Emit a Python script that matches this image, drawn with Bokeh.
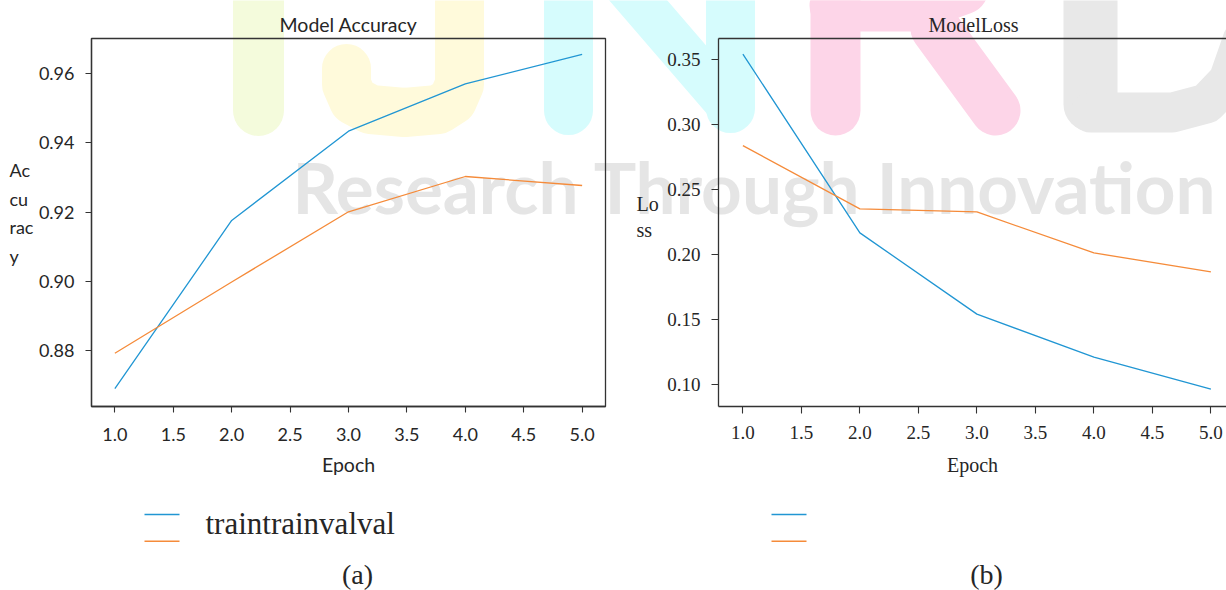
from bokeh.plotting import figure
from bokeh.layouts import row, column
from bokeh.models import (Label, LinearAxis, FixedTicker, NumeralTickFormatter, Range1d)
from bokeh.embed import file_html
from bokeh.resources import INLINE

# ---------------- data ----------------
epochs = [1, 2, 3, 4, 5]
acc_train = [0.8690, 0.9176, 0.9434, 0.9571, 0.9656]
acc_val = [0.8792, 0.8998, 0.9201, 0.9303, 0.9277]
loss_train = [0.3542, 0.2166, 0.1541, 0.1210, 0.0964]
loss_val = [0.2838, 0.2351, 0.2327, 0.2012, 0.1866]

x_ticks = [1.0, 1.5, 2.0, 2.5, 3.0, 3.5, 4.0, 4.5, 5.0]
acc_ticks = [0.88, 0.90, 0.92, 0.94, 0.96]
loss_ticks = [0.10, 0.15, 0.20, 0.25, 0.30, 0.35]

acc_title = "Model Accuracy"
loss_title = "ModelLoss"
acc_ylabel = ["Ac", "cu", "rac", "y"]
loss_ylabel = ["Lo", "ss"]
x_label = "Epoch"
legend_text = "traintrainvalval"
captions = ["(a)", "(b)"]
watermark_text = "Research Through Innovation"

# ---------------- styles ----------------
BLUE = "#2196d3"
ORANGE = "#f58b3a"
AX = "#333333"
TXT = "#262626"
SANS = "Lato"
SERIF = "Liberation Serif"

W, H = 1226, 590
L_FRAME = (91, 38, 605, 406)     # left, top, right, bottom (page px)
R_FRAME = (718, 38, 1226, 406)
L_CANVAS = (0, 620)
R_CANVAS = (620, 1226)

# watermark strokes: (color, width, points in page px)
WM_STROKES = [
    ("#f4fbdc", 51, [(258, -90), (258, 110)]),
    ("#fffadb", 49, [(346, 68), (346, 84), (353, 100), (370, 109), (404, 112),
                     (438, 109), (452, 100), (459, 84), (459, -90)]),
    ("#d6fcfd", 49, [(568, 110), (568, -90)]),
    ("#d6fcfd", 44, [(556, -95), (724, 100)]),
    ("#d6fcfd", 49, [(730, 108), (730, -90)]),
    ("#fdd5e8", 50, [(835, 110), (835, -90)]),
    ("#fdd5e8", 52, [(835, 5), (915, 5), (962, -12), (988, -55)]),
    ("#fdd5e8", 50, [(935, 28), (995, 110)]),
    ("#e8e8e8", 54, [(1090, -90), (1090, 104)]),
    ("#e8e8e8", 40, [(1090, 112), (1172, 112), (1206, 103), (1228, 80), (1242, 40)]),
]
WM_TEXT_COLOR = "#e5e5e5"

# ---------------- background sheet: watermark + free texts ----------------
bg = figure(width=W, height=H, x_range=Range1d(0, W), y_range=Range1d(H, 0),
            min_border=0, x_axis_location=None, y_axis_location=None,
            outline_line_color=None, toolbar_location=None, output_backend="svg",
            background_fill_color="white", border_fill_color="white")
bg.grid.visible = False
for color, w, pts in WM_STROKES:
    bg.line([p[0] for p in pts], [p[1] for p in pts], line_color=color,
            line_width=w, line_cap="round", line_join="round")


def text(x, y, s, font, size, align="left", color=TXT, style="normal"):
    # y is the vertical middle of the text box (page px)
    bg.add_layout(Label(x=x, y=y, text=s, text_font=font, text_font_size=f"{size}px",
                        text_align=align, text_baseline="middle", text_color=color,
                        text_font_style=style))


text(292, 186, watermark_text, SANS, 71, color=WM_TEXT_COLOR, style="bold")

# titles
text(348, 24, acc_title, SANS, 19.5, align="center")
text(973, 24, loss_title, SERIF, 20, align="center")
# stacked y labels
for s, my in zip(acc_ylabel, [169.5, 198, 226.5, 255]):
    text(9, my, s, SANS, 18)
for s, my in zip(loss_ylabel, [203, 229.5]):
    text(636, my, s, SERIF, 20)
# legends
for (x0, x1) in [(144, 179), (771, 806)]:
    bg.line([x0, x1], [514, 514], line_color=BLUE, line_width=1.5)
    bg.line([x0, x1], [540.7, 540.7], line_color=ORANGE, line_width=1.5)
text(205, 522.5, legend_text, SERIF, 31)
# captions
text(357, 574, captions[0], SERIF, 28, align="center")
text(986, 574, captions[1], SERIF, 28, align="center")


# ---------------- plots ----------------
def make_fig(frame, canvas, xr, yr, outline):
    fl, ft, fr, fb = frame
    p = figure(frame_width=fr - fl, frame_height=fb - ft,
               x_range=Range1d(*xr), y_range=Range1d(*yr),
               min_border_left=fl - canvas[0], min_border_right=canvas[1] - fr,
               min_border_top=ft, min_border_bottom=H - fb,
               output_backend="svg", toolbar_location=None,
               background_fill_color=None, border_fill_color=None)
    p.grid.visible = False
    p.outline_line_color = AX if outline else None
    p.outline_line_width = 1.3
    return p


def style_axis(ax, font, size, lab_size, tick_out, standoff, lab_standoff):
    ax.axis_line_color = AX
    ax.axis_line_width = 1.3
    ax.major_tick_line_color = AX
    ax.major_tick_line_width = 1.1
    ax.major_tick_out = tick_out
    ax.major_tick_in = 0
    ax.minor_tick_line_color = None
    ax.major_label_text_font = font
    ax.major_label_text_font_size = f"{size}px"
    ax.major_label_text_color = TXT
    ax.major_label_standoff = standoff
    ax.axis_label_text_font = font
    ax.axis_label_text_font_size = f"{lab_size}px"
    ax.axis_label_text_font_style = "normal"
    ax.axis_label_text_color = TXT
    ax.axis_label_standoff = lab_standoff


# (a) accuracy
pa = make_fig(L_FRAME, L_CANVAS, (0.8, 5.2), (0.8638, 0.9702), outline=True)
pa.line(epochs, acc_train, line_color=BLUE, line_width=1.3)
pa.line(epochs, acc_val, line_color=ORANGE, line_width=1.3)
style_axis(pa.xaxis[0], SANS, 18, 19.5, 6, 15, 9)
style_axis(pa.yaxis[0], SANS, 18, 18, 6, 11, 5)
pa.xaxis.ticker = FixedTicker(ticks=x_ticks)
pa.yaxis.ticker = FixedTicker(ticks=acc_ticks)
pa.xaxis.formatter = NumeralTickFormatter(format="0.0")
pa.yaxis.formatter = NumeralTickFormatter(format="0.00")
pa.xaxis.axis_label = x_label

# (b) loss
pb = make_fig(R_FRAME, R_CANVAS, (0.7915, 5.1333), (0.0830, 0.3662), outline=False)
pb.line(epochs, loss_train, line_color=BLUE, line_width=1.3)
pb.line(epochs, loss_val, line_color=ORANGE, line_width=1.3)
style_axis(pb.xaxis[0], SERIF, 19, 20, 7, 12, 12)
style_axis(pb.yaxis[0], SERIF, 19, 20, 7, 11, 5)
pb.xaxis.ticker = FixedTicker(ticks=x_ticks)
pb.yaxis.ticker = FixedTicker(ticks=loss_ticks)
pb.xaxis.formatter = NumeralTickFormatter(format="0.0")
pb.yaxis.formatter = NumeralTickFormatter(format="0.00")
pb.xaxis.axis_label = x_label
top_axis = LinearAxis(ticker=FixedTicker(ticks=[]), axis_line_color=AX,
                      axis_line_width=1.3, major_tick_line_color=None,
                      minor_tick_line_color=None, major_label_text_font_size="0px",
                      major_label_standoff=0)
pb.add_layout(top_axis, "above")

plots = row(pa, pb, spacing=0, margin=(-H, 0, 0, 0))
layout = column(bg, plots, spacing=0)
open("out.html", "w").write(file_html(layout, INLINE))
